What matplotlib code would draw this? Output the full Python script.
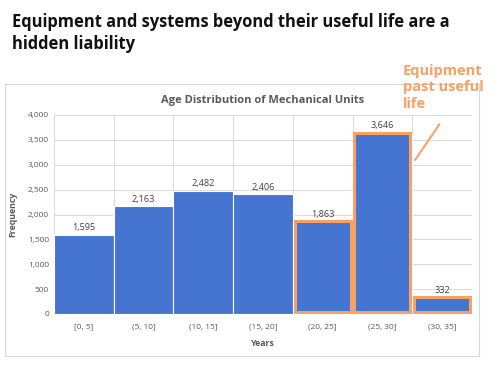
import matplotlib.pyplot as plt
import matplotlib.patches as patches
import numpy as np

# data
bins = ["[0, 5]", "(5, 10]", "(10, 15]", "(15, 20]", "(20, 25]", "(25, 30]", "(30, 35]"]
counts = [1595, 2163, 2482, 2406, 1863, 3646, 332]
highlight = [4, 5, 6]
y_ticks = [0, 500, 1000, 1500, 2000, 2500, 3000, 3500, 4000]

BLUE = "#4674D1"
ORANGE = "#F7A165"
GRAY = "#595959"

plt.rcParams["font.family"] = ["Open Sans", "DejaVu Sans"]

fig = plt.figure(figsize=(4.95, 3.72), dpi=100)

# chart frame
fig.patches.append(patches.Rectangle(
    (5 / 495, 1 - 356 / 372), 474 / 495, 272 / 372,
    transform=fig.transFigure, fill=False, edgecolor="#D9D9D9", lw=0.8))

fig.text(12 / 495, 1 - 13 / 372,
         "Equipment and systems beyond their useful life are a\nhidden liability",
         ha="left", va="top", fontsize=11.9, fontweight="bold", color="#111111",
         linespacing=1.28)

ax = fig.add_axes([54 / 495, 1 - 314 / 372, 418 / 495, 199 / 372])

x = np.arange(len(bins))
ax.bar(x, counts, width=1.0, color=BLUE, edgecolor="white", linewidth=0.8, zorder=2)

for i, v in enumerate(counts):
    ax.text(i, v + 50, f"{v:,}", ha="center", va="bottom", fontsize=6.6, color="#404040")

for i in highlight:
    ax.add_patch(patches.Rectangle((i - 0.47, 40), 0.94, counts[i] - 40,
                                   fill=False, edgecolor=ORANGE, lw=2.2, zorder=3))

ax.set_xlim(-0.5, len(bins) - 0.5)
ax.set_ylim(0, 4000)
ax.set_yticks(y_ticks)
ax.set_yticklabels([f"{t:,}" for t in y_ticks])
ax.set_xticks(x)
ax.set_xticklabels(bins)
ax.set_xticks(np.arange(-0.5, len(bins)), minor=True)
ax.tick_params(axis="both", which="both", length=0, labelsize=6, labelcolor=GRAY)
ax.tick_params(axis="x", pad=7)
ax.grid(axis="y", color="#D9D9D9", lw=0.7, zorder=0)
ax.grid(axis="x", which="minor", color="#D9D9D9", lw=0.7, zorder=0)
for s in ax.spines.values():
    s.set_visible(False)

ax.set_xlabel("Years", fontsize=6.3, fontweight="bold", color=GRAY, labelpad=6)
ax.set_ylabel("Frequency", fontsize=6.3, fontweight="bold", color=GRAY, labelpad=8)
ax.set_title("Age Distribution of Mechanical Units", fontsize=8, fontweight="bold",
             color=GRAY, pad=9)

ax.annotate("", xy=(5.52, 3050), xytext=(441 / 495, 1 - 122 / 372),
            textcoords="figure fraction",
            arrowprops=dict(arrowstyle="-", color=ORANGE, lw=1.5))
fig.text(403 / 495, 1 - 64 / 372, "Equipment\npast useful\nlife", ha="left", va="top",
         fontsize=10.5, fontweight="bold", color=ORANGE, linespacing=1.22)

fig.savefig("out.png", dpi=100)
